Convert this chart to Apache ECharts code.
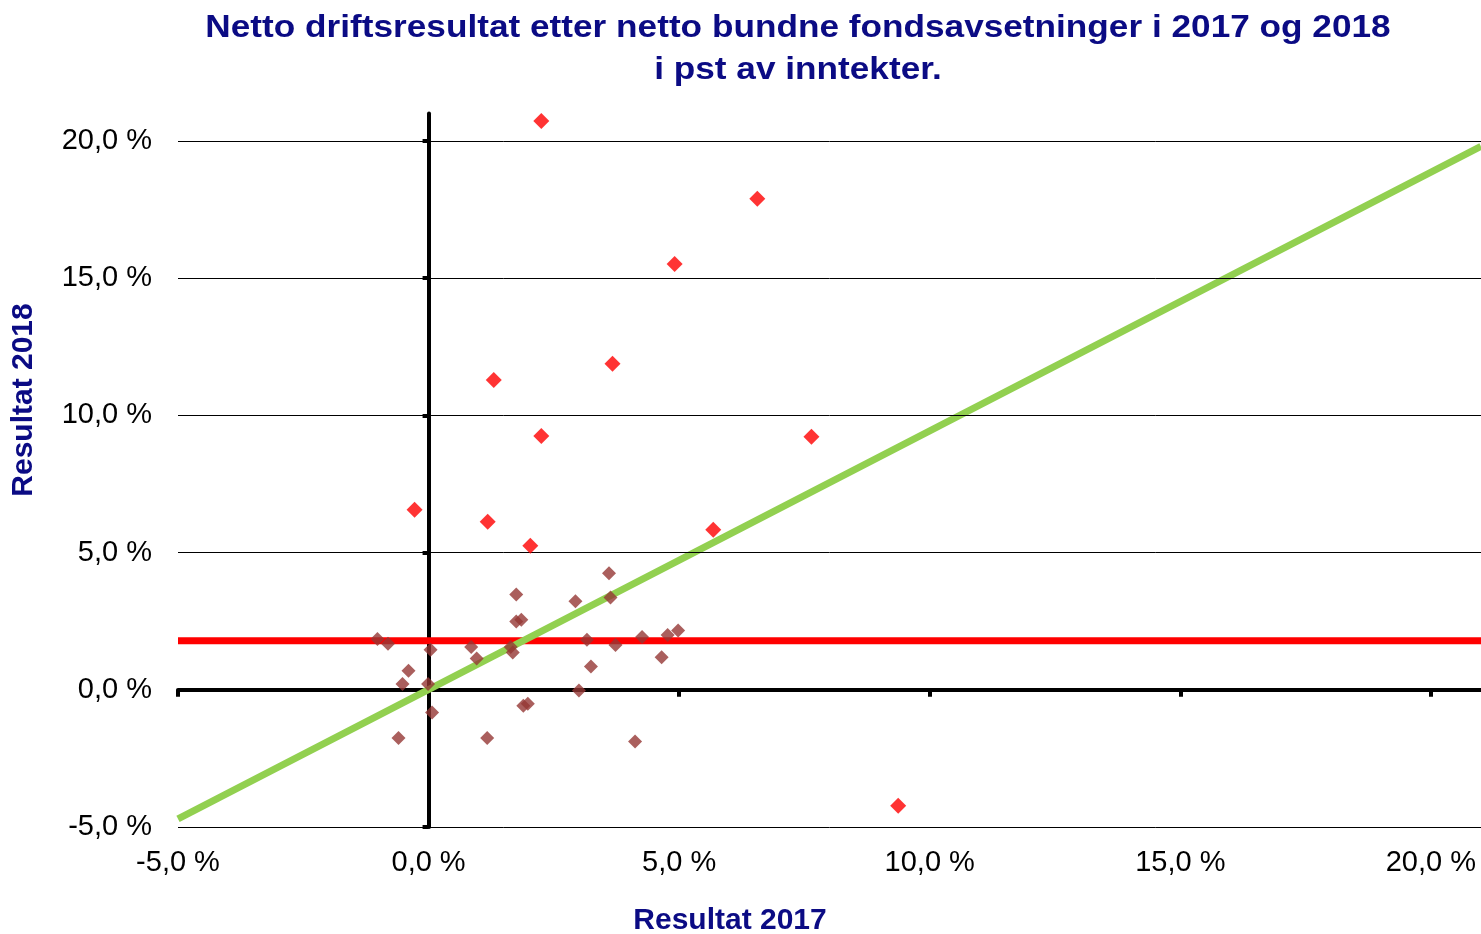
<!DOCTYPE html>
<html><head><meta charset="utf-8">
<script src="https://cdn.jsdelivr.net/npm/echarts@6/dist/echarts.min.js"></script>
<style>html,body{margin:0;padding:0;background:#fff}#c{width:1481px;height:934px}</style>
</head><body><div id="c"></div>
<script>
// ---- data ----
const titleLines = ['Netto driftsresultat etter netto bundne fondsavsetninger i 2017 og 2018', 'i pst av inntekter.'];
const xAxisName = 'Resultat 2017';
const yAxisName = 'Resultat 2018';
const tickValues = [-5, 0, 5, 10, 15, 20];
const gridValues = [-5, 5, 10, 15, 20];
// highlighted (bright red) municipalities
const redX = [2.25, 6.56, 4.91, 3.67, 1.30, 2.25, 7.64, -0.28, 1.18, 2.03, 5.68, 9.37];
const redY = [20.73, 17.89, 15.52, 11.88, 11.29, 9.25, 9.22, 6.56, 6.12, 5.25, 5.83, -4.23];
// other municipalities (dark red)
const darkX = [-1.02, -0.81, 0.04, -0.40, -0.52, -0.01, 0.07, -0.60, 1.17, 0.85, 0.96, 1.75, 1.75, 1.85, 1.64, 1.68, 1.89, 1.98, 3.60, 2.93, 3.63, 3.16, 3.73, 4.26, 4.77, 4.98, 4.65, 3.24, 3.00, 4.12];
const darkY = [1.85, 1.68, 1.46, 0.69, 0.21, 0.21, -0.83, -1.76, -1.76, 1.56, 1.14, 3.47, 2.49, 2.55, 1.56, 1.36, -0.58, -0.51, 4.25, 3.23, 3.36, 1.82, 1.63, 1.92, 2.00, 2.16, 1.19, 0.85, -0.03, -1.88];
// trend line (green) and average line (red)
const trendX = [-5, 21];
const trendY = [-4.70, 19.80];
const avgX = [-5, 21];
const avgY = [1.79, 1.79];

const zip = (a, b) => a.map((v, i) => [v, b[i]]);
const fmt = v => v.toFixed(1).replace('.', ',') + ' %';
const FONT = '"Liberation Sans", Arial, sans-serif';
const NAVY = '#0B0B84';

const chart = echarts.init(document.getElementById('c'));
const baseAxis = {
  type: 'value', min: -5, max: 21, interval: 5,
  splitLine: { show: false }
};
chart.setOption({
  animation: false,
  backgroundColor: '#fff',
  grid: { left: 178, right: 0, top: 113.5, bottom: 107, containLabel: false },
  graphic: [
    { type: 'text', x: 798, y: 28, scaleX: 1.1, style: { text: titleLines[0], font: 'bold 32px ' + FONT, fill: NAVY, textAlign: 'center', textVerticalAlign: 'middle' } },
    { type: 'text', x: 798, y: 70, scaleX: 1.1, style: { text: titleLines[1], font: 'bold 32px ' + FONT, fill: NAVY, textAlign: 'center', textVerticalAlign: 'middle' } },
    { type: 'text', x: 730, y: 921, style: { text: xAxisName, font: 'bold 30px ' + FONT, fill: NAVY, textAlign: 'center', textVerticalAlign: 'middle' } },
    { type: 'text', x: 24, y: 400, rotation: Math.PI / 2, style: { text: yAxisName, font: 'bold 30px ' + FONT, fill: NAVY, textAlign: 'center', textVerticalAlign: 'middle' } }
  ],
  xAxis: [
    Object.assign({}, baseAxis, {
      position: 'bottom',
      axisLine: { show: false, onZero: false },
      axisTick: { show: false },
      axisLabel: { customValues: tickValues, formatter: fmt, margin: 21, fontSize: 29, color: '#000', fontFamily: FONT }
    }),
    Object.assign({}, baseAxis, {
      position: 'bottom',
      axisLine: { show: true, onZero: true, lineStyle: { color: '#000', width: 4 } },
      axisTick: { show: true, customValues: tickValues, length: 7, lineStyle: { color: '#000', width: 4 } },
      axisLabel: { show: false }
    })
  ],
  yAxis: [
    Object.assign({}, baseAxis, {
      position: 'left',
      axisLine: { show: false, onZero: false },
      axisTick: { show: false },
      axisLabel: { customValues: tickValues, formatter: fmt, margin: 26, fontSize: 29, color: '#000', fontFamily: FONT }
    }),
    Object.assign({}, baseAxis, {
      position: 'left',
      axisLine: { show: true, onZero: true, lineStyle: { color: '#000', width: 4 } },
      axisTick: { show: true, customValues: tickValues, length: 6, lineStyle: { color: '#000', width: 4 } },
      axisLabel: { show: false }
    })
  ],
  series: [
    {
      type: 'line', data: [], z: 1, silent: true,
      markLine: {
        silent: true, symbol: 'none', label: { show: false },
        lineStyle: { color: '#000', width: 1, type: 'solid' },
        data: gridValues.map(v => ({ yAxis: v }))
      }
    },
    {
      type: 'line', data: zip(avgX, avgY), z: 3, symbol: 'none', silent: true,
      lineStyle: { color: '#FF0000', width: 7 }
    },
    {
      type: 'line', data: zip(trendX, trendY), z: 3, symbol: 'none', silent: true,
      lineStyle: { color: '#92D050', width: 7 }
    },
    {
      type: 'scatter', data: zip(darkX, darkY), z: 5, symbol: 'diamond', symbolSize: 14,
      itemStyle: { color: '#953735' }
    },
    {
      type: 'scatter', data: zip(redX, redY), z: 5, symbol: 'diamond', symbolSize: 16,
      itemStyle: { color: '#FF0000' }
    }
  ]
});
</script></body></html>
